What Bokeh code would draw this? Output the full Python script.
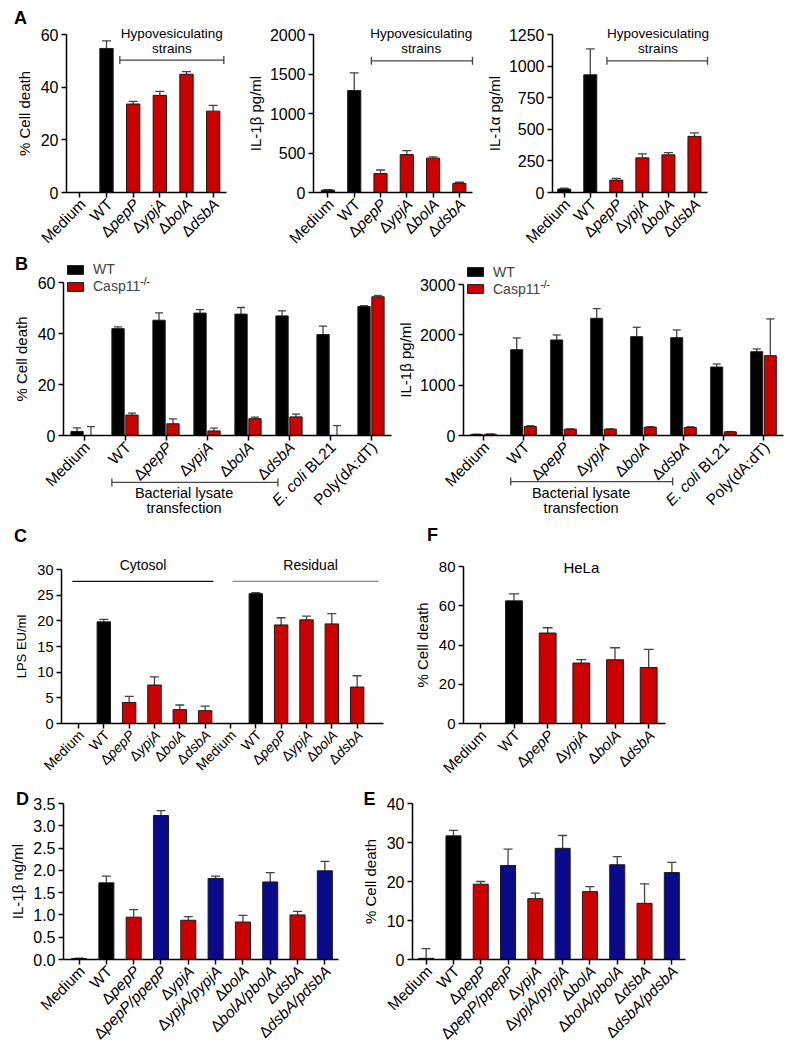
import math
from bokeh.plotting import figure
from bokeh.models import (Range1d, FixedTicker, ColumnDataSource, LabelSet, Label,
                          Whisker, TeeHead, Legend, LegendItem, PrintfTickFormatter)
from bokeh.layouts import row, column
from bokeh.transform import dodge
from bokeh.core.properties import value
from bokeh.embed import file_html
from bokeh.resources import INLINE

# ---------------- data ----------------
cats_a = ["Medium", "WT", "ΔpepP", "ΔypjA", "ΔbolA", "ΔdsbA"]
kinds_a = ["ctrl", "wt", "mut", "mut", "mut", "mut"]
a1_vals = [0, 54.7, 33.6, 36.9, 44.9, 30.9]
a1_sem = [0, 2.9, 1.0, 1.5, 1.0, 2.2]
a2_vals = [30, 1290, 240, 480, 435, 115]
a2_sem = [5, 225, 45, 50, 15, 15]
a3_vals = [27, 931, 98, 274, 298, 444]
a3_sem = [8, 205, 14, 32, 18, 27]

cats_b = ["Medium", "WT", "ΔpepP", "ΔypjA", "ΔbolA", "ΔdsbA", "E. coli BL21", "Poly(dA:dT)"]
b1_wt = [1.6, 41.9, 45.2, 48.0, 47.6, 46.9, 39.6, 50.6]
b1_wt_sem = [1.4, 0.7, 2.9, 1.4, 2.6, 2.0, 3.3, 0.3]
b1_ko = [0, 8.0, 4.6, 1.8, 6.6, 7.3, 0, 54.4]
b1_ko_sem = [3.5, 0.8, 1.9, 1.1, 0.6, 1.1, 3.9, 0.5]
b2_wt = [20, 1705, 1898, 2329, 1964, 1944, 1360, 1665]
b2_wt_sem = [5, 233, 99, 192, 186, 153, 60, 54]
b2_ko = [25, 179, 126, 126, 166, 159, 73, 1586]
b2_ko_sem = [5, 15, 5, 5, 8, 15, 5, 730]

cats_c = cats_a + cats_a
kinds_c = kinds_a + kinds_a
c_vals = [0, 19.8, 4.1, 7.5, 2.7, 2.5, 0, 25.3, 19.2, 20.2, 19.4, 7.1]
c_sem = [0, 0.5, 1.2, 1.6, 0.9, 0.9, 0, 0.2, 1.4, 0.7, 2.0, 2.2]

f_vals = [0, 62.5, 46.1, 30.8, 32.5, 28.5]
f_sem = [0, 3.6, 2.7, 1.7, 6.1, 9.3]

cats_d = ["Medium", "WT", "ΔpepP", "ΔpepP/ppepP", "ΔypjA", "ΔypjA/pypjA",
          "ΔbolA", "ΔbolA/pbolA", "ΔdsbA", "ΔdsbA/pdsbA"]
kinds_d = ["ctrl", "wt", "mut", "comp", "mut", "comp", "mut", "comp", "mut", "comp"]
d_vals = [0.02, 1.72, 0.95, 3.23, 0.88, 1.82, 0.84, 1.74, 1.00, 1.99]
d_sem = [0.01, 0.15, 0.17, 0.11, 0.08, 0.05, 0.15, 0.21, 0.08, 0.21]
e_vals = [0.3, 31.7, 19.3, 24.1, 15.6, 28.5, 17.4, 24.3, 14.4, 22.3]
e_sem = [2.5, 1.4, 0.7, 4.2, 1.4, 3.3, 1.3, 2.1, 5.0, 2.6]

# ---------------- style ----------------
FONT = "Liberation Sans"
COLORS = {"ctrl": "#000000", "wt": "#000000", "mut": "#cc0000", "comp": "#0a0a8c"}
ERR = "#454545"
W = {' ': 278, '(': 333, ')': 333, '.': 278, '/': 278, ':': 278, '1': 556, '2': 556,
     'A': 667, 'B': 667, 'E': 667, 'L': 556, 'M': 833, 'P': 667, 'T': 611, 'W': 944,
     'a': 556, 'b': 556, 'c': 500, 'd': 556, 'e': 556, 'h': 556, 'i': 222, 'j': 222,
     'l': 222, 'm': 833, 'n': 556, 'o': 556, 'p': 556, 's': 500, 'u': 556, 'y': 500}


def text_width(s, size):
    return sum(W.get(ch, 556) for ch in s) / 1000.0 * size


def segments(label):
    if label.startswith("Δ"):
        return [("Δ", "normal"), (label[1:], "italic")]
    if label.startswith("E. coli"):
        return [("E. coli", "italic"), (label[7:], "normal")]
    return [(label, "normal")]


class Panel:
    """A figure whose frame fills the canvas; the axes box is placed by
    (left, right, top, bottom) page pixels and the axes use fixed_location."""

    def __init__(self, fx, fy, w, h, box, xax, yax, yticks, ylabel, nx,
                 tick_fs="16px", ylab_fs="15px", fmt=None, standoff=5):
        self.fx, self.fy, self.w, self.h = fx, fy, w, h
        L, R, T, B = box[0] - fx, box[1] - fx, box[2] - fy, box[3] - fy
        kx = (R - L) / (xax[1] - xax[0])
        ky = (B - T) / (yax[1] - yax[0])
        xr = (xax[0] - L / kx, xax[1] + (w - R) / kx)
        yr = (yax[0] - (h - B) / ky, yax[1] + T / ky)
        p = figure(width=w, height=h, x_range=Range1d(*xr), y_range=Range1d(*yr),
                   output_backend="svg", toolbar_location=None,
                   min_border_left=0, min_border_right=0,
                   min_border_top=0, min_border_bottom=0)
        p.outline_line_color = None
        p.xgrid.visible = False
        p.ygrid.visible = False
        for ax in (p.xaxis[0], p.yaxis[0]):
            ax.axis_line_width = 1.5
            ax.axis_line_color = "black"
            ax.major_tick_line_width = 1.5
            ax.major_tick_line_color = "black"
            ax.major_tick_in = 0
            ax.major_tick_out = 5
            ax.minor_tick_line_color = None
        p.xaxis.fixed_location = yax[0]
        p.xaxis.bounds = xax
        p.yaxis.fixed_location = xax[0]
        p.yaxis.bounds = yax
        p.yaxis.ticker = FixedTicker(ticks=yticks)
        p.xaxis.ticker = FixedTicker(ticks=list(range(nx)))
        p.xaxis.major_label_overrides = {i: "" for i in range(nx)}
        p.yaxis.major_label_text_font = FONT
        p.yaxis.major_label_text_font_size = tick_fs
        p.yaxis.major_label_text_color = "black"
        p.yaxis.major_label_standoff = 3
        if fmt:
            p.yaxis.formatter = PrintfTickFormatter(format=fmt)
        p.yaxis.axis_label = ylabel
        p.yaxis.axis_label_text_font = FONT
        p.yaxis.axis_label_text_font_size = ylab_fs
        p.yaxis.axis_label_text_font_style = "normal"
        p.yaxis.axis_label_text_color = "black"
        p.yaxis.axis_label_standoff = standoff
        self.p = p
        self.y0 = yax[0]

    def sx(self, x_img):
        return x_img - self.fx

    def sy(self, y_img):
        return self.fy + self.h - y_img

    def letter(self, text, x_img, y_img):
        self.p.add_layout(Label(x=self.sx(x_img), y=self.sy(y_img), x_units="screen",
                                y_units="screen", text=text, text_font=FONT,
                                text_font_size="18px", text_font_style="bold",
                                text_align="center", text_baseline="middle",
                                text_color="black"))

    def txt(self, text, x, y, yoff=0, size="13.5px", color="black"):
        self.p.add_layout(Label(x=x, y=y, y_offset=yoff, text=text, text_font=FONT,
                                text_font_size=size, text_align="center",
                                text_baseline="middle", text_color=color))

    def bracket(self, x0, x1, y, tee=True, color=ERR, width=1.3):
        src = ColumnDataSource(dict(y=[y], x0=[x0], x1=[x1]))
        mk = (lambda: TeeHead(size=8, line_color=color, line_width=width)) if tee else (lambda: None)
        self.p.add_layout(Whisker(source=src, dimension="width", base="y", lower="x0",
                                  upper="x1", line_color=color, line_width=width,
                                  lower_head=mk(), upper_head=mk()))

    def whiskers(self, base, vals, sems, cap, xform=None):
        keep = [i for i, s in enumerate(sems) if s > 0]
        src = ColumnDataSource(dict(x=[base[i] for i in keep],
                                    lo=[vals[i] for i in keep],
                                    hi=[vals[i] + sems[i] for i in keep]))
        b = xform if xform is not None else "x"
        self.p.add_layout(Whisker(source=src, base=b, lower="lo", upper="hi",
                                  line_color=ERR, line_width=1.3, lower_head=None,
                                  upper_head=TeeHead(size=cap, line_color=ERR, line_width=1.3)))

    def bars(self, cats, vals, sems, kinds, bw, cap):
        xs = list(range(len(cats)))
        src = ColumnDataSource(dict(x=xs, top=vals, color=[COLORS[k] for k in kinds]))
        self.p.vbar(x="x", top="top", bottom=0, width=bw, fill_color="color",
                    line_color="#1a1a1a", line_width=1, source=src)
        self.whiskers(xs, vals, sems, cap)
        return xs

    def category_labels(self, xs, cats, fs, dx=3.0, dy=-9.0):
        c = math.cos(math.pi / 4)
        rows = dict(x=[], y=[], text=[], dx=[], dy=[], style=[])
        for x, lab in zip(xs, cats):
            after = 0.0
            for t, st in reversed(segments(lab)):
                rows["x"].append(x)
                rows["y"].append(self.y0)
                rows["text"].append(t.strip())
                rows["dx"].append(dx - after * c)
                rows["dy"].append(dy - after * c)
                rows["style"].append(st)
                after += text_width(t, fs)
        src = ColumnDataSource(rows)
        self.p.add_layout(LabelSet(x="x", y="y", text="text", x_offset="dx", y_offset="dy",
                                   text_font_style="style", angle=math.pi / 4,
                                   text_align="right", text_baseline="middle",
                                   text_font=value(FONT), text_font_size=f"{fs}px",
                                   text_color="black", source=src))


CAT_FS = 15.5

# ---------------- Row A (page y 0..250) ----------------
A1 = Panel(0, 0, 245, 250, (66, 226, 34, 192), (-0.5, 5.5), (0, 60), [0, 20, 40, 60],
           "% Cell death", len(cats_a))
xs = A1.bars(cats_a, a1_vals, a1_sem, kinds_a, 0.5, 9)
A1.category_labels(xs, cats_a, CAT_FS)
A1.bracket(1.5, 5.4, 50.3)
A1.txt("strains", 3.45, 50.3, 12)
A1.txt("Hypovesiculating", 3.45, 50.3, 27)
A1.letter("A", 20, 17)

A2 = Panel(245, 0, 242, 250, (313, 472, 34, 192), (-0.55, 5.5), (0, 2000),
           [0, 500, 1000, 1500, 2000], "IL-1β pg/ml", len(cats_a), standoff=3)
xs = A2.bars(cats_a, a2_vals, a2_sem, kinds_a, 0.5, 9)
A2.category_labels(xs, cats_a, CAT_FS)
A2.bracket(1.65, 5.5, 1667)
A2.txt("strains", 3.55, 1667, 12)
A2.txt("Hypovesiculating", 3.55, 1667, 27)

A3 = Panel(487, 0, 298, 250, (552, 707, 34, 192), (-0.45, 5.5), (0, 1250),
           [0, 250, 500, 750, 1000, 1250], "IL-1α pg/ml", len(cats_a), standoff=3)
xs = A3.bars(cats_a, a3_vals, a3_sem, kinds_a, 0.5, 9)
A3.category_labels(xs, cats_a, CAT_FS)
A3.bracket(1.64, 5.5, 1042)
A3.txt("strains", 3.6, 1042, 12)
A3.txt("Hypovesiculating", 3.6, 1042, 27)


# ---------------- Row B (page y 250..522) ----------------
def group_panel(fx, w, box, yax, yticks, ylabel, wt, wt_sem, ko, ko_sem, br_y,
                leg_img, standoff=5):
    P = Panel(fx, 250, w, 272, box, (-0.5, 7.5), yax, yticks, ylabel, len(cats_b),
              standoff=standoff)
    p = P.p
    xs = list(range(len(cats_b)))
    off = 0.17
    s1 = ColumnDataSource(dict(x=xs, top=wt))
    s2 = ColumnDataSource(dict(x=xs, top=ko))
    r1 = p.vbar(x=dodge("x", -off, range=p.x_range), top="top", bottom=0, width=0.3,
                fill_color=COLORS["wt"], line_color="#1a1a1a", line_width=1, source=s1)
    r2 = p.vbar(x=dodge("x", off, range=p.x_range), top="top", bottom=0, width=0.3,
                fill_color=COLORS["mut"], line_color="#1a1a1a", line_width=1, source=s2)
    P.whiskers(xs, wt, wt_sem, 8, dodge("x", -off, range=p.x_range))
    P.whiskers(xs, ko, ko_sem, 8, dodge("x", off, range=p.x_range))
    P.category_labels(xs, cats_b, CAT_FS)
    P.bracket(0.68, 4.73, br_y)
    P.txt("Bacterial lysate", 2.44, br_y, -11, size="14.5px")
    P.txt("transfection", 2.44, br_y, -26, size="14.5px")
    item_h = 17
    lx = P.sx(leg_img[0])
    ly = P.sy(leg_img[1] + 2 * item_h)
    leg = Legend(items=[LegendItem(label="WT", renderers=[r1]),
                        LegendItem(label="Casp11", renderers=[r2])],
                 location=(lx, ly), orientation="vertical",
                 glyph_width=20, glyph_height=11, label_height=item_h, spacing=0,
                 padding=0, margin=0, border_line_color=None, background_fill_alpha=0,
                 label_text_font=FONT, label_text_font_size="14px", label_standoff=8)
    p.add_layout(leg)
    p.add_layout(Label(x=lx + 20 + 8 + text_width("Casp11", 14) + 1, y=ly + item_h / 2 + 5,
                       x_units="screen", y_units="screen", text="-/-", text_font=FONT,
                       text_font_size="10px", text_align="left", text_baseline="middle",
                       text_color="black"))
    return P


B1 = group_panel(0, 396, (63, 391, 282, 435), (0, 60), [0, 20, 40, 60], "% Cell death",
                 b1_wt, b1_wt_sem, b1_ko, b1_ko_sem, -18.4, (65, 260.5))
B1.letter("B", 21, 263)
B2 = group_panel(396, 389, (463, 783, 284, 435), (0, 3000), [0, 1000, 2000, 3000],
                 "IL-1β pg/ml", b2_wt, b2_wt_sem, b2_ko, b2_ko_sem, -916, (465, 263),
                 standoff=3)

# ---------------- Row C (page y 522..786) ----------------
C = Panel(0, 522, 400, 264, (61, 383, 569, 723), (-0.67, 12.04), (0, 30),
          [0, 5, 10, 15, 20, 25, 30], "LPS EU/ml", len(cats_c),
          tick_fs="14.5px", ylab_fs="13px")
xs = C.bars(cats_c, c_vals, c_sem, kinds_c, 0.53, 9)
C.category_labels(xs, cats_c, 14)
C.bracket(-0.24, 5.33, 27.7, tee=False, color="#111111", width=1.3)
C.bracket(6.08, 11.84, 27.7, tee=False, color="#888888", width=1.3)
C.txt("Cytosol", 2.55, 27.7, 16, size="14px")
C.txt("Residual", 9.16, 27.7, 16, size="14px")
C.letter("C", 20, 535)

F = Panel(400, 522, 385, 264, (463, 665, 566, 723), (-0.5, 5.5), (0, 80),
          [0, 20, 40, 60, 80], "% Cell death", len(cats_a), tick_fs="15px")
xs = F.bars(cats_a, f_vals, f_sem, kinds_a, 0.5, 10)
F.category_labels(xs, cats_a, 15)
F.txt("HeLa", 3, 80, -1, size="15px")
F.letter("F", 432, 534)

# ---------------- Row D (page y 786..1046) ----------------
D = Panel(0, 786, 350, 260, (63, 338, 803, 959), (-0.57, 9.5), (0, 3.5),
          [0, 0.5, 1.0, 1.5, 2.0, 2.5, 3.0, 3.5], "IL-1β ng/ml", len(cats_d),
          fmt="%.1f", standoff=4)
xs = D.bars(cats_d, d_vals, d_sem, kinds_d, 0.55, 9)
D.category_labels(xs, cats_d, CAT_FS)
D.letter("D", 22, 798)

E = Panel(350, 786, 435, 260, (412, 685, 803, 959), (-0.5, 9.5), (0, 40),
          [0, 10, 20, 30, 40], "% Cell death", len(cats_d))
xs = E.bars(cats_d, e_vals, e_sem, kinds_d, 0.55, 9)
E.category_labels(xs, cats_d, CAT_FS)
E.letter("E", 369, 798)

layout = column(row(A1.p, A2.p, A3.p), row(B1.p, B2.p), row(C.p, F.p), row(D.p, E.p))
open("out.html", "w").write(file_html(layout, INLINE))
